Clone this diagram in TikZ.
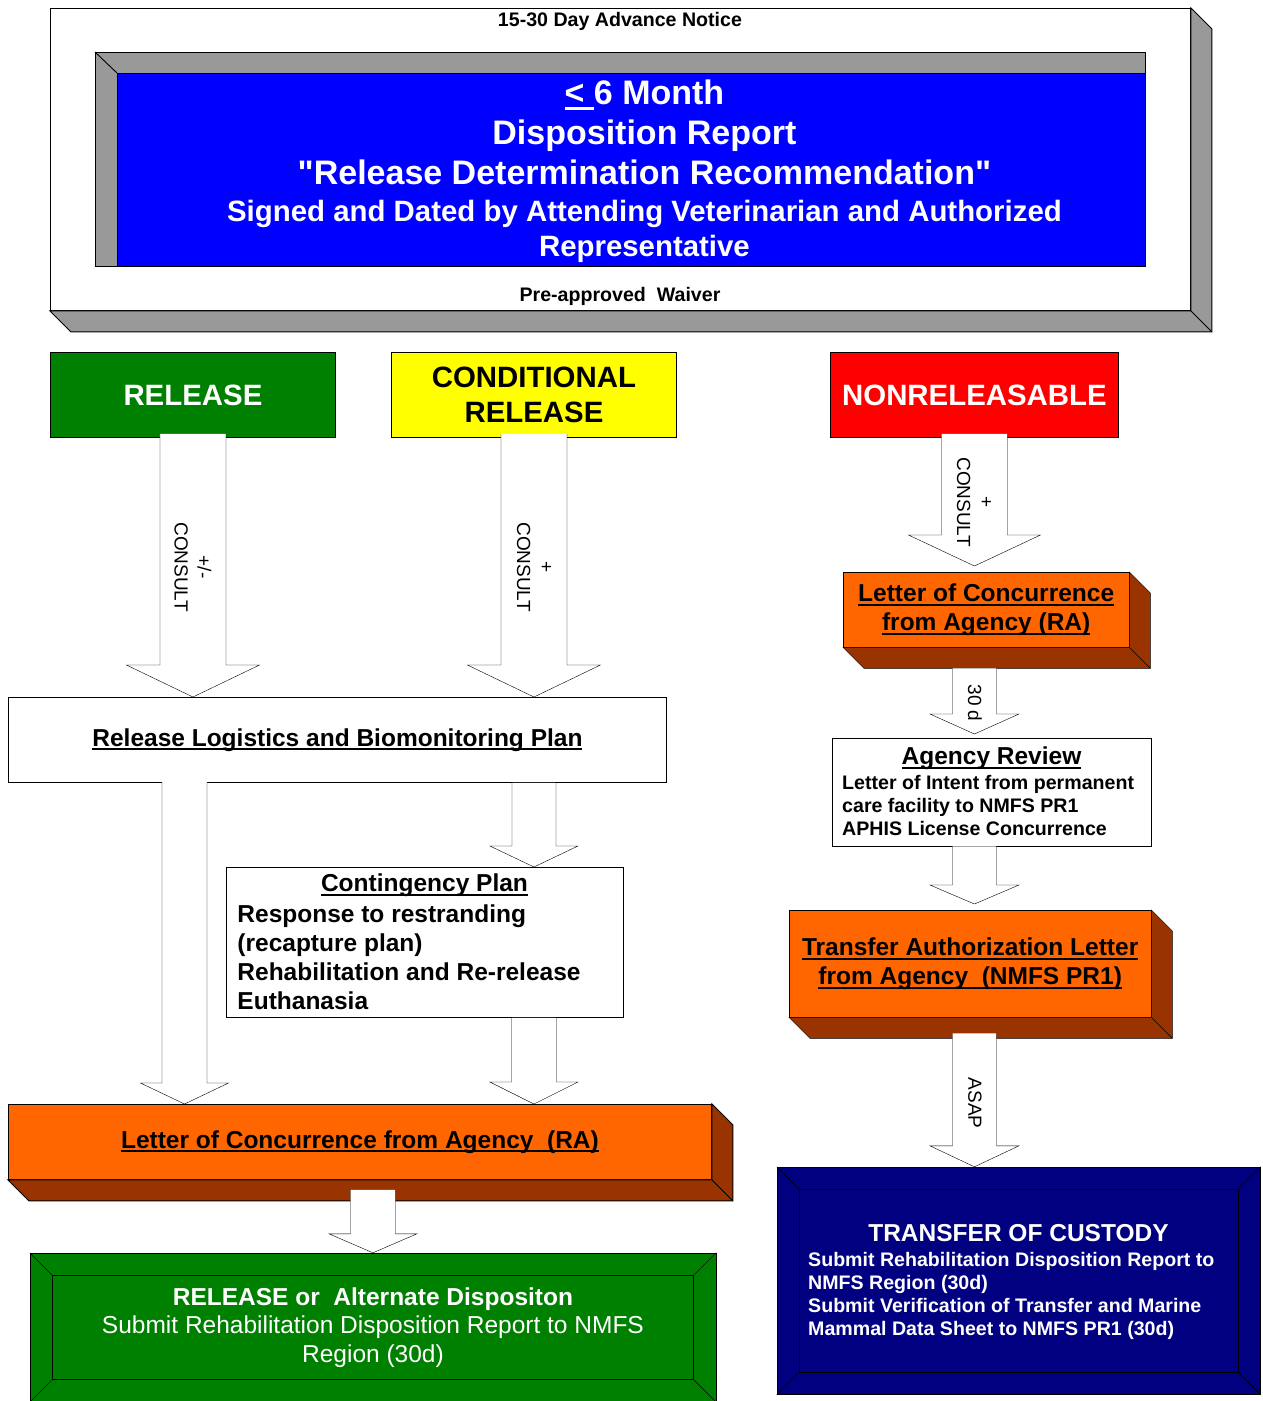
\documentclass[tikz,border=0pt]{standalone}
\usepackage{fontspec}
\setmainfont{Liberation Sans}
\usetikzlibrary{calc,fit,positioning}
\pgfdeclarelayer{back}
\pgfsetlayers{back,main}

\definecolor{relgreen}{RGB}{0,128,0}
\definecolor{condyellow}{RGB}{255,255,0}
\definecolor{nonred}{RGB}{255,0,0}
\definecolor{repblue}{RGB}{0,0,255}
\definecolor{bevelgray}{RGB}{153,153,153}
\definecolor{letterorange}{RGB}{255,102,0}
\definecolor{letterbrown}{RGB}{153,51,0}
\definecolor{custnavy}{RGB}{0,0,128}

% underline at a fixed depth
\newcommand{\undl}[1]{\setbox0\hbox{#1}\rlap{\vrule width\wd0 height -0.09em depth 0.17em}\box0\relax}
% right and bottom face of a raised box
\newcommand{\sidefaces}[2]{%
	\filldraw[fill=#2] (#1.north east) -- ([xshift=21pt,yshift=-21pt]#1.north east)
		-- ([xshift=21pt,yshift=-21pt]#1.south east) -- ([xshift=21pt,yshift=-21pt]#1.south west)
		-- (#1.south west) -- (#1.south east) -- cycle;
	\draw (#1.south east) -- ([xshift=21pt,yshift=-21pt]#1.south east);}
% block arrow: start, tip, shaft half width, head half width, head length
\newcommand{\bigarrow}[5]{%
	\path[draw=black, fill=white] let \p1=(#1), \p2=(#2) in
		(\x1-#3pt,\y1) -- (\x1-#3pt,\y2+#5pt) -- (\x1-#4pt,\y2+#5pt) -- (\x1,\y2)
		-- (\x1+#4pt,\y2+#5pt) -- (\x1+#3pt,\y2+#5pt) -- (\x1+#3pt,\y1);}

\begin{document}
\begin{tikzpicture}[x=1pt, y=-1pt, line width=0.9pt,
		every node/.style={inner sep=0pt},
		face/.style={draw, fill=white, anchor=north west},
		bigtxt/.style={font=\fontsize{29.4}{35}\selectfont\bfseries},
		midtxt/.style={font=\fontsize{24.5}{29}\selectfont\bfseries},
		smalltxt/.style={font=\fontsize{19.6}{23}\selectfont\bfseries},
		lbltxt/.style={font=\fontsize{19}{23}\selectfont, rotate=-90, align=center},
	]
		\useasboundingbox (0,0) rectangle (1262,1401);

		% notice frame
		\node[face, minimum width=1140pt, minimum height=302pt] (notice) at (50,8) {};
		\sidefaces{notice}{bevelgray}
		\node[smalltxt] (advance) at (620,21) {15-30 Day Advance Notice};
		\node[smalltxt] (waiver) at (620,296) {Pre-approved~~Waiver};

		% disposition report
		\node[face, fill=repblue, minimum width=1028pt, minimum height=193pt] (report) at (117,73) {};
		\filldraw[fill=bevelgray] ([xshift=-22pt,yshift=21pt]report.north west) -- ([yshift=21pt]report.north east)
			-- (report.north east) -- (report.north west) -- (report.south west) -- ([xshift=-22pt]report.south west) -- cycle;
		\draw ([xshift=-22pt,yshift=21pt]report.north west) -- (report.north west);
		\node[text=white, align=center, font=\fontsize{34}{40}\selectfont\bfseries] (reporttxt) at ([xshift=13pt,yshift=-1pt]report.center)
			{\undl{< }6 Month\\Disposition Report\\\textquotedbl Release Determination Recommendation\textquotedbl\\[-3pt]
			\fontsize{29.4}{36}\selectfont Signed and Dated by Attending Veterinarian and Authorized\\[-5pt]
			\fontsize{29.4}{36}\selectfont Representative};

		% decisions
		\node[face, fill=relgreen, minimum width=285pt, minimum height=85pt, bigtxt, text=white] (rel) at (50,352) {RELEASE};
		\node[face, fill=condyellow, minimum width=285pt, minimum height=85pt, bigtxt, align=center] (cond) at (391,352) {CONDITIONAL\\RELEASE};
		\node[face, fill=nonred, minimum width=288pt, minimum height=85pt, bigtxt, text=white] (nonrel) at (830,352) {NONRELEASABLE};

		% release branch
		\node[face, minimum width=658pt, minimum height=85pt, midtxt] (lgst) at (8,697) {\undl{Release Logistics and Biomonitoring Plan}};
		\node[face, minimum width=397pt, minimum height=150pt] (cont) at (226,867) {};
		\node[midtxt] (conttitle) at (424.5,885.5) {\undl{Contingency Plan}};
		\node[midtxt, anchor=north west, align=left] (contbody) at (237,904)
			{Response to restranding\\(recapture plan)\\Rehabilitation and Re-release\\Euthanasia};
		\node[face, fill=letterorange, minimum width=703pt, minimum height=75pt, midtxt] (locl) at (8,1104)
			{\undl{Letter of Concurrence from Agency~~(RA)}};
		\sidefaces{locl}{letterbrown}
		\node[draw, fill=relgreen, anchor=north west, minimum width=641pt, minimum height=104pt, text=white, align=center,
			font=\fontsize{24.5}{28.5}\selectfont] (finalrel) at (52,1275)
			{{\bfseries RELEASE or~~Alternate Dispositon}\\Submit Rehabilitation Disposition Report to NMFS\\Region (30d)};
		\begin{pgfonlayer}{back}
			\node[draw, fill=relgreen, fit=(finalrel), inner sep=22pt] (finalrelout) {};
		\end{pgfonlayer}
		\foreach \c in {north west,north east,south east,south west}
			\draw (finalrelout.\c) -- (finalrel.\c);

		% nonreleasable branch
		\node[face, fill=letterorange, minimum width=286pt, minimum height=75pt, midtxt, align=center] (locr) at (843,572)
			{\undl{Letter of Concurrence}\\\undl{from Agency (RA)}};
		\sidefaces{locr}{letterbrown}
		\node[face, minimum width=319pt, minimum height=108pt] (ar) at (832,738) {};
		\node[midtxt] (artitle) at (991.5,758.5) {\undl{Agency Review}};
		\node[smalltxt, anchor=north west, align=left] (arbody) at (842,775)
			{Letter of Intent from permanent\\care facility to NMFS PR1\\APHIS License Concurrence};
		\node[face, fill=letterorange, minimum width=362pt, minimum height=107pt, midtxt, align=center] (tal) at (789,910)
			{\undl{Transfer Authorization Letter}\\\undl{from Agency~~(NMFS PR1)}};
		\sidefaces{tal}{letterbrown}
		\node[draw, fill=custnavy, anchor=north west, minimum width=439pt, minimum height=183pt] (cust) at (799,1189) {};
		\begin{pgfonlayer}{back}
			\node[draw, fill=custnavy, fit=(cust), inner sep=22pt] (custout) {};
		\end{pgfonlayer}
		\foreach \c in {north west,north east,south east,south west}
			\draw (custout.\c) -- (cust.\c);
		\node[midtxt, text=white] (custtitle) at (1018.5,1233) {TRANSFER OF CUSTODY};
		\node[smalltxt, text=white, anchor=north west, align=left] (custbody) at (808,1252)
			{Submit Rehabilitation Disposition Report to\\NMFS Region (30d)\\Submit Verification of Transfer and Marine\\Mammal Data Sheet to NMFS PR1 (30d)};

		% block arrows
		\coordinate (lgstleft) at (184.5,782);
		\coordinate (locldrop) at ($(finalrel.north |- locl.south)+(0,10)$);
		\bigarrow{[yshift=4pt]rel.south}{lgst.north}{33}{66.5}{32}
		\bigarrow{[yshift=4pt]cond.south}{lgst.north}{33}{66.5}{32}
		\bigarrow{lgstleft}{locl.north}{22.5}{44}{21}
		\bigarrow{cond |- lgst.south}{cont.north}{22}{44}{21}
		\bigarrow{cond |- cont.south}{locl.north}{22.5}{44}{22}
		\bigarrow{locldrop}{finalrelout.north}{22.5}{44}{19}
		\bigarrow{[yshift=4pt]nonrel.south}{[yshift=6pt]locr.north}{33}{66}{31}
		\bigarrow{$(nonrel |- locr.south)+(0,21)$}{[yshift=4pt]ar.north}{22}{44.5}{20}
		\bigarrow{nonrel |- ar.south}{[yshift=6pt]tal.north}{22}{44.5}{19}
		\bigarrow{$(nonrel |- tal.south)+(0,16)$}{custout.north}{22}{44.5}{21}
		\node[lbltxt] (consultrel) at (193,567) {+/-\\CONSULT};
		\node[lbltxt] (consultcond) at (534,567) {+\\CONSULT};
		\node[lbltxt] (consultnon) at (974,502) {+\\CONSULT};
		\node[lbltxt] (thirtyd) at (975,703) {30 d};
		\node[lbltxt] (asap) at (975,1103) {ASAP};
	\end{tikzpicture}
\end{document}
